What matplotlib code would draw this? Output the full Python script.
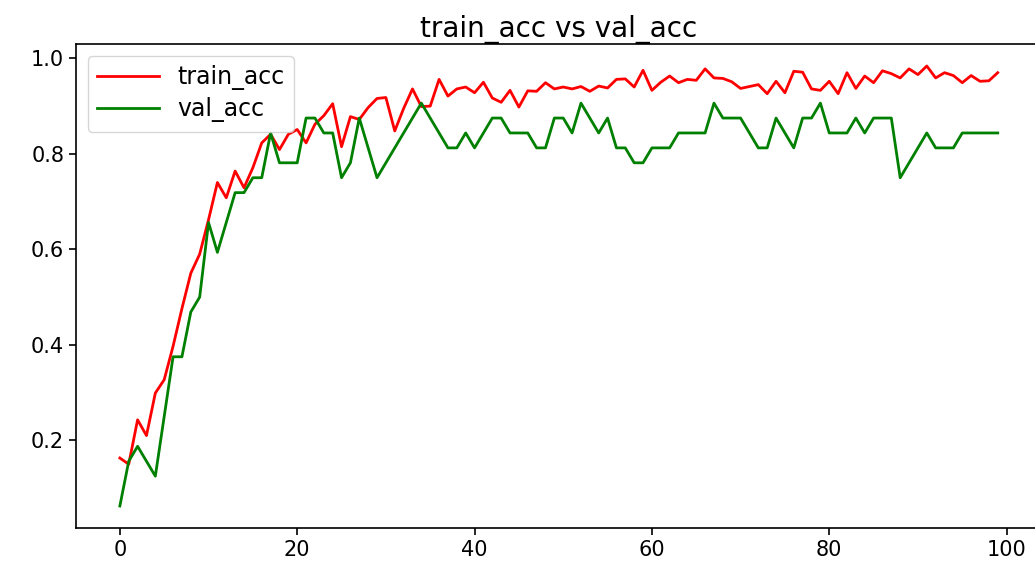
import matplotlib
matplotlib.use("Agg")
import matplotlib.pyplot as plt

epochs = list(range(100))

train_acc = [
    0.163, 0.150, 0.243, 0.210, 0.299, 0.327, 0.397, 0.476, 0.550, 0.590,
    0.662, 0.740, 0.708, 0.764, 0.729, 0.771, 0.823, 0.841, 0.809, 0.841,
    0.851, 0.823, 0.862, 0.880, 0.905, 0.815, 0.878, 0.872, 0.897, 0.916,
    0.918, 0.848, 0.895, 0.936, 0.899, 0.900, 0.956, 0.921, 0.936, 0.940,
    0.928, 0.950, 0.917, 0.908, 0.933, 0.898, 0.932, 0.931, 0.949, 0.936,
    0.940, 0.936, 0.941, 0.931, 0.942, 0.938, 0.956, 0.957, 0.940, 0.975,
    0.933, 0.950, 0.963, 0.949, 0.956, 0.954, 0.978, 0.959, 0.958, 0.951,
    0.937, 0.941, 0.945, 0.926, 0.952, 0.928, 0.973, 0.971, 0.936, 0.933,
    0.952, 0.926, 0.970, 0.937, 0.963, 0.949, 0.974, 0.968, 0.959, 0.978,
    0.966, 0.984, 0.959, 0.970, 0.964, 0.949, 0.964, 0.952, 0.953, 0.970,
]

val_acc = [
    0.0625, 0.15625, 0.1875, 0.15625, 0.125, 0.25, 0.375, 0.375, 0.46875, 0.5,
    0.65625, 0.59375, 0.65625, 0.71875, 0.71875, 0.75, 0.75, 0.84375, 0.78125, 0.78125,
    0.78125, 0.875, 0.875, 0.84375, 0.84375, 0.75, 0.78125, 0.875, 0.8125, 0.75,
    0.78125, 0.8125, 0.84375, 0.875, 0.90625, 0.875, 0.84375, 0.8125, 0.8125, 0.84375,
    0.8125, 0.84375, 0.875, 0.875, 0.84375, 0.84375, 0.84375, 0.8125, 0.8125, 0.875,
    0.875, 0.84375, 0.90625, 0.875, 0.84375, 0.875, 0.8125, 0.8125, 0.78125, 0.78125,
    0.8125, 0.8125, 0.8125, 0.84375, 0.84375, 0.84375, 0.84375, 0.90625, 0.875, 0.875,
    0.875, 0.84375, 0.8125, 0.8125, 0.875, 0.84375, 0.8125, 0.875, 0.875, 0.90625,
    0.84375, 0.84375, 0.84375, 0.875, 0.84375, 0.875, 0.875, 0.875, 0.75, 0.78125,
    0.8125, 0.84375, 0.8125, 0.8125, 0.8125, 0.84375, 0.84375, 0.84375, 0.84375, 0.84375,
]

fig = plt.figure(figsize=(10.35, 5.67), dpi=100)
ax = fig.add_axes([0.0734, 0.0688, 0.933, 0.8536])

ax.plot(epochs, train_acc, color="r", linewidth=2.0, label="train_acc")
ax.plot(epochs, val_acc, color="g", linewidth=2.0, label="val_acc")

ax.set_title("train_acc vs val_acc", fontsize=20, pad=5)
ax.tick_params(labelsize=15, width=1.2, length=5)
for s in ax.spines.values():
    s.set_linewidth(1.2)
ax.legend(loc="upper left", fontsize=17, handlelength=2.6,
          borderaxespad=0.5, labelspacing=0.3)

fig.savefig("out.png", dpi=100)
